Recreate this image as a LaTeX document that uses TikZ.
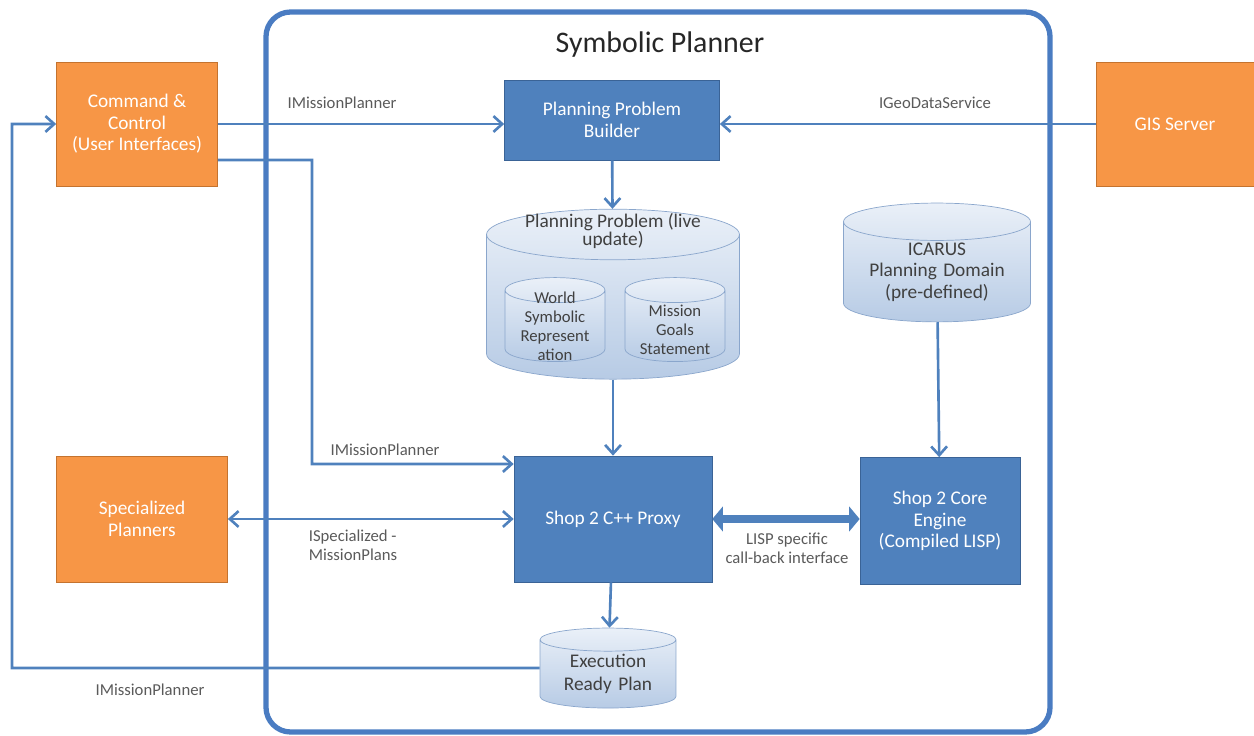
\documentclass[tikz,border=0pt]{standalone}
\usepackage{fontspec}
\setmainfont{Carlito}
\usetikzlibrary{arrows.meta,shapes.geometric}
\definecolor{officeorange}{HTML}{F79646}
\definecolor{orangeline}{HTML}{C4732F}
\definecolor{officeblue}{HTML}{4F81BD}
\definecolor{blueline}{HTML}{3A6396}
\definecolor{framecol}{HTML}{4A7CC2}
\definecolor{cyltop}{HTML}{EAF0F8}
\definecolor{cylbot}{HTML}{B7CBE5}
\definecolor{cylline}{HTML}{8AA6CC}
\definecolor{labelgray}{HTML}{5A5A5A}
\begin{document}
\begin{tikzpicture}[x=0.02cm, y=-0.02cm,
    orangebox/.style={draw=orangeline, fill=officeorange, text=white, align=center, font=\fontsize{11}{12.3}\selectfont},
    bluebox/.style={draw=blueline, fill=officeblue, text=white, align=center, font=\fontsize{11}{12.3}\selectfont},
    store/.style={cylinder, shape border rotate=90, draw=cylline, top color=cyltop, bottom color=cylbot, text=black!75, align=center, inner xsep=0pt, inner ysep=1pt},
    storetext/.style={text=black!75, align=center, font=\fontsize{9.5}{10.8}\selectfont},
    link/.style={draw=officeblue, line width=1.5pt, -{Straight Barb[length=5pt,width=9pt]}},
    fatlink/.style={draw=officeblue, line width=4.5pt, {Triangle[length=6pt,width=14pt]}-{Triangle[length=6pt,width=14pt]}},
    lbl/.style={text=labelgray, font=\fontsize{9.5}{11}\selectfont, align=left}]
    \useasboundingbox (0,0) rectangle (1254,736);
    % planner frame
    \draw[framecol, line width=3pt, rounded corners=14pt] (266,12) rectangle (1050,732);
    \node[font=\fontsize{17}{20}\selectfont, text=black!85] (title) at (660,45) {Symbolic Planner};
    % outside actors
    \node[orangebox, minimum width=3.22cm, minimum height=2.48cm] (cc) at (137,124) {Command \&\\Control\\(User Interfaces)};
    \node[orangebox, minimum width=3.16cm, minimum height=2.48cm] (gis) at (1175,124) {GIS Server};
    \node[orangebox, minimum width=3.42cm, minimum height=2.52cm] (spec) at (142,519) {Specialized\\Planners};
    % planner parts
    \node[bluebox, minimum width=4.3cm, minimum height=1.6cm] (ppb) at (612,120) {Planning Problem\\Builder};
    \node[bluebox, minimum width=3.96cm, minimum height=2.52cm] (proxy) at (613,519) {Shop 2 C++ Proxy};
    \node[bluebox, minimum width=3.2cm, minimum height=2.54cm] (engine) at (940,521) {Shop 2 Core\\Engine\\(Compiled LISP)};
    \node[store, text width=5.06cm, minimum height=3.4cm, aspect=0.2] (pp) at (613,307) {\mbox{}};
    \node[text=black!75, align=center, font=\fontsize{11}{10.5}\selectfont] (pptext) at (613,231) {Planning Problem (live\\update)};
    \node[store, text width=2cm, minimum height=1.68cm, aspect=0.25] (world) at (555,326) {\mbox{}};
    \node[storetext] (worldtext) at (555,326) {World\\Symbolic\\Represent\\ation};
    \node[store, text width=2cm, minimum height=1.68cm, aspect=0.25] (mission) at (675,326) {\mbox{}};
    \node[storetext] (missiontext) at (675,330) {Mission\\Goals\\Statement};
    \node[store, text width=3.74cm, minimum height=2.26cm, aspect=0.2, font=\fontsize{11}{12.3}\selectfont] (icarus) at (937,272) {ICARUS\\Planning Domain\\(pre-defined)};
    \node[store, text width=2.72cm, minimum height=1.6cm, aspect=0.17, font=\fontsize{11}{13.5}\selectfont] (erp) at (608,674) {Execution\\Ready Plan};
    % connectors
    \draw[link] (cc.east) -- (cc.east -| ppb.west);
    \draw[link] (gis.west) -- (gis.west -| ppb.east);
    \draw[link] (ppb) -- (pp);
    \draw[link] (pp) -- (proxy);
    \draw[link] (icarus) -- (engine);
    \draw[link] ([yshift=-0.72cm]cc.east) -| (312,464) -- ([yshift=1.1cm]proxy.west);
    \draw[link, {Straight Barb[length=5pt,width=9pt]}-{Straight Barb[length=5pt,width=9pt]}] (spec.east) -- (proxy.west);
    \draw[fatlink] (proxy.east) -- (proxy.east -| engine.west);
    \draw[link] (proxy) -- (erp);
    \draw[link] ([yshift=0.12cm]erp.west) -- (12,668) |- (cc.west);
    % interface labels
    \node[lbl] (l1) at (342,103) {IMissionPlanner};
    \node[lbl] (l2) at (935,103) {IGeoDataService};
    \node[lbl] (l3) at (385,450) {IMissionPlanner};
    \node[lbl] (l4) at (353,545) {ISpecialized -\\MissionPlans};
    \node[lbl, align=center] (l5) at (787,548) {LISP specific\\call-back interface};
    \node[lbl] (l6) at (150,690) {IMissionPlanner};
\end{tikzpicture}
\end{document}
